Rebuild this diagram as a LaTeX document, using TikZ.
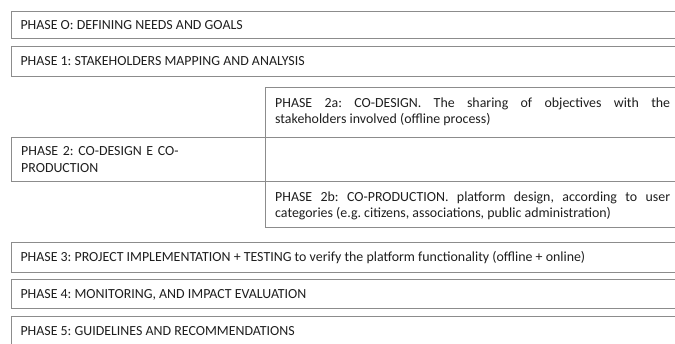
\documentclass[tikz,border=0pt]{standalone}
\usepackage{fontspec}
\setmainfont{Carlito}
\frenchspacing
\definecolor{linegray}{RGB}{140,140,140}
\definecolor{txt}{RGB}{30,30,30}
\begin{document}
\begin{tikzpicture}[x=1pt,y=-1pt,
  box/.style={draw=linegray, line width=0.9pt, rectangle, inner sep=0pt, anchor=north west},
  lbl/.style={text=txt, inner sep=0pt, font=\fontsize{13.9}{17.5}\selectfont, anchor=base west, align=left},
  plbl/.style={text=txt, inner sep=0pt, font=\fontsize{13.9}{17.5}\selectfont, anchor=base west, text width=240pt, align=left},
  jlbl/.style={text=txt, inner sep=0pt, font=\fontsize{13.9}{15.5}\selectfont, anchor=base west, text width=395pt, align=justify}]
\useasboundingbox (0,0) rectangle (675,343);
\clip (0,0) rectangle (675,343);
% boxes
\node[box, minimum width=690pt, minimum height=27.3pt] (p0) at (10.5,10.7) {};
\node[box, minimum width=690pt, minimum height=30.3pt] (p1) at (10.5,45.7) {};
\node[box, minimum width=430pt, minimum height=50pt] (p2a) at (265,86.7) {};
\node[box, minimum width=430pt, minimum height=43.8pt] (p2m) at (265,136.7) {};
\node[box, minimum width=430pt, minimum height=46.5pt] (p2b) at (265,180.5) {};
\node[box, minimum width=254.5pt, minimum height=43.8pt] (p2) at (10.5,136.7) {};
\node[box, minimum width=690pt, minimum height=30pt] (p3) at (10.5,241.7) {};
\node[box, minimum width=690pt, minimum height=29pt] (p4) at (10.5,279) {};
\node[box, minimum width=690pt, minimum height=40pt] (p5) at (10.5,316) {};
% labels
\node[lbl] (t0) at ([xshift=9.8pt,yshift=-4.6pt]p0.west) {PHASE O: DEFINING NEEDS AND GOALS};
\node[lbl] (t1) at ([xshift=9.8pt,yshift=-4.6pt]p1.west) {PHASE 1: STAKEHOLDERS MAPPING AND ANALYSIS};
\node[jlbl] (t2a) at ([xshift=10pt,yshift=-21pt]p2a.north west) {PHASE 2a: CO-DESIGN. The sharing of objectives with the\linebreak stakeholders involved (offline process)};
\node[plbl] (t2) at ([xshift=10.5pt,yshift=-18.5pt]p2.north west) {PHASE 2: CO-DESIGN E CO-\\PRODUCTION};
\node[jlbl] (t2b) at ([xshift=10pt,yshift=-21pt]p2b.north west) {PHASE 2b: CO-PRODUCTION. platform design, according to user\linebreak categories (e.g. citizens, associations, public administration)};
\node[lbl] (t3) at ([xshift=9.8pt,yshift=-4.6pt]p3.west) {PHASE 3: PROJECT IMPLEMENTATION + TESTING to verify the platform functionality (offline + online)};
\node[lbl] (t4) at ([xshift=9.8pt,yshift=-4.6pt]p4.west) {PHASE 4: MONITORING, AND IMPACT EVALUATION};
\node[lbl] (t5) at ([xshift=9.8pt,yshift=-19.5pt]p5.north west) {PHASE 5: GUIDELINES AND RECOMMENDATIONS};
\end{tikzpicture}
\end{document}
